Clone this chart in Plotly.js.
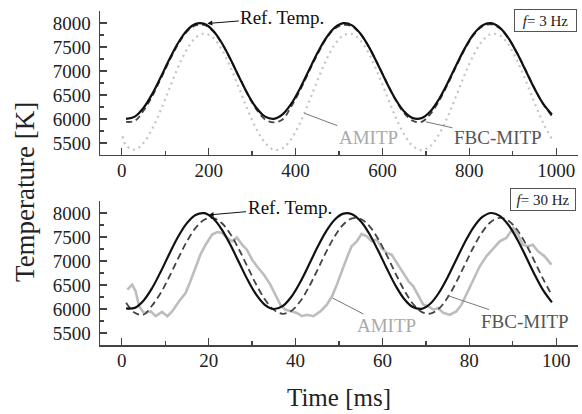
<!DOCTYPE html>
<html>
<head>
<meta charset="utf-8">
<script src="https://cdn.plot.ly/plotly-3.0.1.min.js"></script>
<style>html,body{margin:0;padding:0;background:#fff;}#chart{width:582px;height:414px;}</style>
</head>
<body>
<div id="chart"></div>
<script>
// ---- Top panel: f = 3 Hz (time in ms) ----
var tTop = [10,30,50,70,90,110,130,150,170,190,210,230,250,270,290,310,330,350,370,390,410,430,450,470,490,510,530,550,570,590,610,630,650,670,690,710,730,750,770,790,810,830,850,870,890,910,930,950,970,990];
var refTop = [6002,6049,6229,6518,6875,7249,7588,7844,7982,7982,7844,7588,7249,6875,6518,6229,6049,6002,6095,6315,6632,7000,7368,7685,7905,7998,7951,7771,7482,7125,6751,6412,6156,6018,6018,6156,6412,6751,7125,7482,7771,7951,7998,7905,7685,7368,7000,6632,6315,6095];
var fbcTop = [5940,5960,6170,6470,6840,7220,7560,7820,7950,7960,7830,7580,7250,6880,6510,6200,5990,5930,5990,6260,6590,6970,7340,7660,7880,7960,7930,7760,7480,7130,6760,6400,6120,5960,5940,6100,6370,6720,7100,7460,7750,7930,7970,7890,7680,7370,7010,6640,6310,6060];
var tTopAmi = [2,10,30,50,70,90,110,130,150,170,190,210,230,250,270,290,310,330,350,370,390,410,430,450,470,490,510,530,550,570,590,610,630,650,670,690,710,730,750,770,790,810,830,850,870,890,910,930,950,970,990];
var amiTop = [5640,5450,5360,5501,5791,6190,6642,7083,7451,7695,7780,7695,7451,7083,6642,6190,5791,5501,5360,5388,5582,5914,6338,6792,7216,7548,7742,7770,7629,7339,6940,6488,6047,5679,5435,5350,5435,5679,6047,6488,6940,7339,7629,7770,7742,7548,7216,6792,6338,5914,5582];

// ---- Bottom panel: f = 30 Hz (time in ms) ----
var tBot = [1,3,5,7,9,11,13,15,17,19,21,23,25,27,29,31,33,35,37,39,41,43,45,47,49,51,53,55,57,59,61,63,65,67,69,71,73,75,77,79,81,83,85,87,89,91,93,95,97,99];
var refBot = [6012,6024,6173,6438,6782,7156,7509,7790,7960,7996,7891,7661,7339,6969,6603,6293,6082,6000,6059,6250,6546,6906,7279,7613,7861,7988,7976,7827,7562,7218,6844,6491,6210,6040,6004,6109,6339,6661,7031,7397,7707,7918,8000,7941,7750,7454,7094,6721,6387,6139];
var fbcBot = [6130,5920,5880,6073,6338,6682,7056,7409,7690,7860,7896,7791,7561,7239,6869,6503,6193,5982,5900,5959,6150,6446,6806,7179,7513,7761,7888,7876,7727,7462,7118,6744,6391,6110,5940,5904,6009,6239,6561,6931,7297,7607,7818,7900,7841,7650,7354,6994,6621,6287];
var tBotAmi = [1.3,2.4,3.2,4.0,5.1,6.7,7.8,9.3,10.5,11.6,13.2,14.7,15.8,17.0,18.1,19.3,20.8,22.0,23.1,24.3,25.4,26.5,27.7,28.8,30.0,31.1,32.7,34.2,35.3,36.5,37.6,38.8,40.3,41.5,42.6,44.1,45.7,47.2,48.4,49.5,50.6,51.8,52.9,54.1,55.2,56.4,57.5,58.7,59.8,61.0,62.1,63.3,64.8,66.0,67.1,68.2,69.4,70.5,71.7,72.8,74.0,75.5,77.0,78.2,79.3,80.9,82.4,83.9,85.5,87.0,88.5,90.1,91.2,92.3,93.5,94.6,95.8,97.3,98.9];
var amiBot = [6404,6508,6370,6057,5918,5950,5850,5940,5850,5950,6160,6334,6577,6890,7132,7340,7550,7604,7583,7480,7410,7490,7340,7236,7028,6890,6716,6508,6300,6090,5987,5950,5918,5850,5880,5850,5950,6090,6265,6508,6785,7063,7306,7410,7563,7514,7410,7445,7270,7167,7132,6960,6750,6577,6473,6300,6090,6057,5987,6022,5918,5880,5950,6090,6300,6577,6890,7098,7271,7410,7480,7688,7549,7340,7306,7340,7200,7098,6924];

var FONT = "Liberation Serif, Times New Roman, serif";
var traces = [
  {x: tTopAmi, y: amiTop, xaxis: 'x2', yaxis: 'y2', mode: 'lines', line: {color: '#c4c4c4', width: 2.2, dash: '2px,4px', shape: 'spline'}, name: 'AMITP'},
  {x: tTop, y: fbcTop, xaxis: 'x2', yaxis: 'y2', mode: 'lines', line: {color: '#444', width: 1.8, dash: '6px,4px', shape: 'spline'}, name: 'FBC-MITP'},
  {x: tTop, y: refTop, xaxis: 'x2', yaxis: 'y2', mode: 'lines', line: {color: '#111', width: 2.2, shape: 'spline'}, name: 'Ref. Temp.'},
  {x: tBotAmi, y: amiBot, xaxis: 'x', yaxis: 'y', mode: 'lines', line: {color: '#bdbdbd', width: 2.6}, name: 'AMITP'},
  {x: tBot, y: fbcBot, xaxis: 'x', yaxis: 'y', mode: 'lines', line: {color: '#444', width: 1.8, dash: '7px,4px', shape: 'spline'}, name: 'FBC-MITP'},
  {x: tBot, y: refBot, xaxis: 'x', yaxis: 'y', mode: 'lines', line: {color: '#111', width: 2.2, shape: 'spline'}, name: 'Ref. Temp.'}
];

function xax(range, dtick, minor, anchor) {
  return {range: range, dtick: dtick, tick0: 0, anchor: anchor, showline: true, linecolor: '#444', linewidth: 1.5,
    ticks: 'inside', ticklen: 7, tickwidth: 1.5, tickcolor: '#444', showgrid: false, zeroline: false,
    minor: {dtick: minor, ticks: 'inside', ticklen: 4, tickwidth: 1.2, tickcolor: '#444', showgrid: false},
    tickfont: {family: FONT, size: 19, color: '#222'}, ticklabelstandoff: -2, fixedrange: true};
}
function yax(domain, anchor) {
  return {domain: domain, range: [5250, 8250], dtick: 500, tick0: 0, tickformat: 'd', anchor: anchor, showline: true,
    linecolor: '#444', linewidth: 1.5, ticks: 'inside', ticklen: 7, tickwidth: 1.5, tickcolor: '#444',
    showgrid: false, zeroline: false,
    minor: {dtick: 250, ticks: 'inside', ticklen: 4, tickwidth: 1.2, tickcolor: '#444', showgrid: false},
    tickfont: {family: FONT, size: 19, color: '#222'}, ticklabelstandoff: 4, fixedrange: true};
}

function lbl(text, xref, yref, x, y, ax, ay, color, head) {
  return {text: text, xref: xref, yref: yref, x: x, y: y, ax: ax, ay: ay, showarrow: true,
    arrowhead: head, arrowsize: 1, arrowwidth: 1, arrowcolor: color === '#111' ? '#111' : '#777',
    font: {family: FONT, size: 19, color: color}};
}

var layout = {
  width: 582, height: 414, margin: {l: 100, r: 4, t: 11, b: 69},
  paper_bgcolor: '#fff', plot_bgcolor: '#fff', showlegend: false,
  xaxis: xax([-5, 105], 20, 10, 'y'),
  yaxis: yax([0, 0.4311], 'x'),
  xaxis2: xax([-50, 1050], 200, 100, 'y2'),
  yaxis2: yax([0.5689, 1], 'x2'),
  annotations: [
    lbl('Ref. Temp.', 'x2', 'y2', 197, 7990, 75, -6, '#111', 2),
    lbl('AMITP', 'x2', 'y2', 420, 6120, 64, 24, '#aaa', 0),
    lbl('FBC-MITP', 'x2', 'y2', 700, 5940, 72, 16, '#555', 0),
    lbl('Ref. Temp.', 'x', 'y', 20, 7960, 81, -7, '#111', 2),
    lbl('AMITP', 'x', 'y', 48.5, 6230, 54, 28, '#aaa', 0),
    lbl('FBC-MITP', 'x', 'y', 75, 6280, 77, 26, '#555', 0),
    {text: '<i>f</i>= 3 Hz', xref: 'paper', yref: 'paper', x: 0.932, y: 0.9716, xanchor: 'center', yanchor: 'middle',
     showarrow: false, width: 57, height: 17, borderpad: 2, bordercolor: '#555', borderwidth: 1, bgcolor: '#fff',
     font: {family: FONT, size: 15, color: '#222'}},
    {text: '<i>f</i>= 30 Hz', xref: 'paper', yref: 'paper', x: 0.9278, y: 0.4356, xanchor: 'center', yanchor: 'middle',
     showarrow: false, width: 60, height: 17, borderpad: 2, bordercolor: '#555', borderwidth: 1, bgcolor: '#fff',
     font: {family: FONT, size: 15, color: '#222'}},
    {text: 'Temperature [K]', xref: 'paper', yref: 'paper', x: -0.157, y: 0.458, xanchor: 'center', yanchor: 'middle',
     textangle: -90, showarrow: false, font: {family: FONT, size: 27, color: '#222'}},
    {text: 'Time [ms]', xref: 'paper', yref: 'paper', x: 0.5, y: -0.1557, xanchor: 'center', yanchor: 'middle',
     showarrow: false, font: {family: FONT, size: 25, color: '#222'}}
  ]
};

Plotly.newPlot('chart', traces, layout, {staticPlot: true, displayModeBar: false});
</script>
</body>
</html>
